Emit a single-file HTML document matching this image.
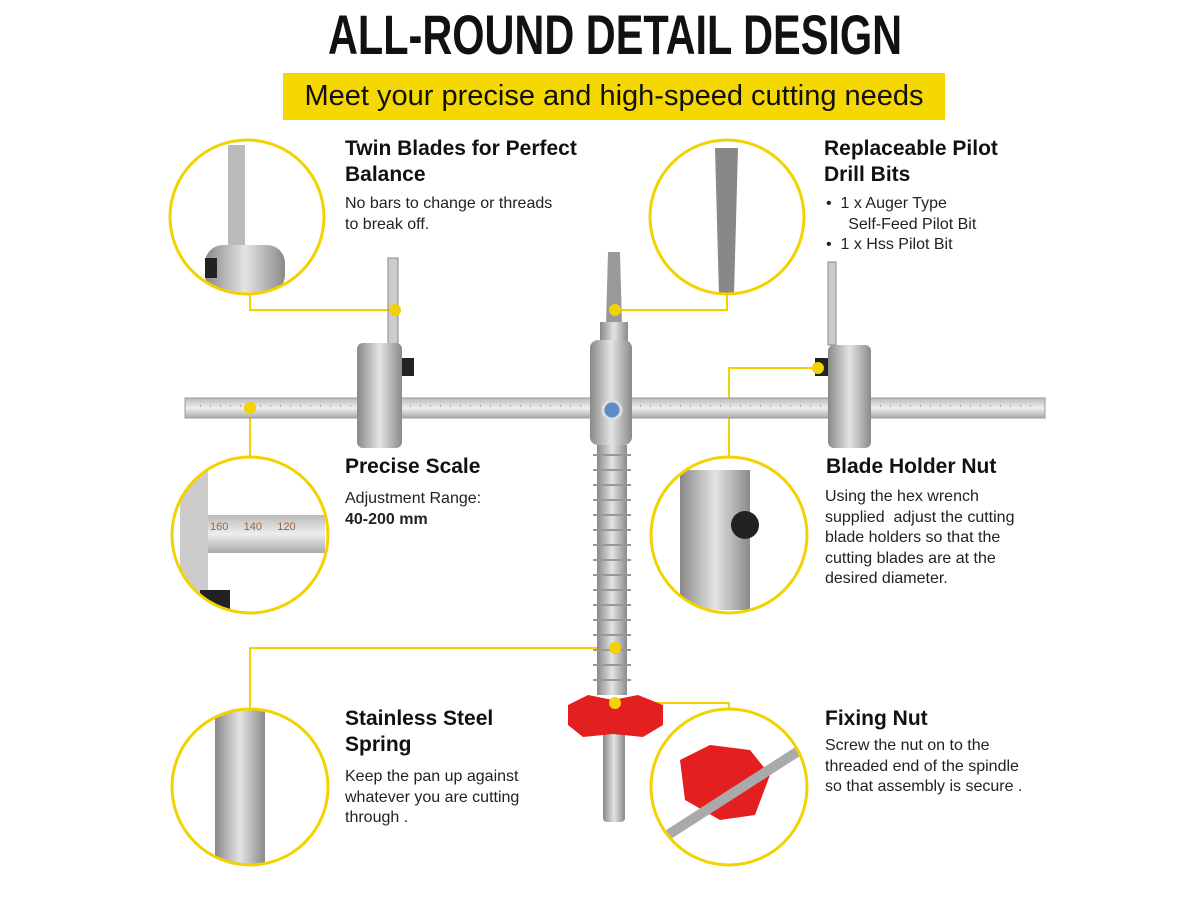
<!DOCTYPE html>
<html><head><meta charset="utf-8"><style>
body{margin:0;width:1200px;height:900px;background:#fff;overflow:hidden;font-family:"Liberation Sans",sans-serif;position:relative}
.t{position:absolute;left:15px;width:1200px;top:2px;text-align:center;font-weight:bold;font-size:56px;transform:scaleX(0.74);color:#111}
.ban{position:absolute;left:283px;top:73px;width:662px;height:47px;background:#f5d800;text-align:center;font-size:29px;line-height:47px;color:#111}
.h{position:absolute;font-weight:bold;font-size:21px;line-height:26px;color:#111}
.p{position:absolute;font-size:16px;line-height:20.5px;color:#222}
</style></head><body>
<div class="t">ALL-ROUND DETAIL DESIGN</div>
<div class="ban">Meet your precise and high-speed cutting needs</div>
<svg width="1200" height="900" style="position:absolute;left:0;top:0">
<defs><linearGradient id="m" x1="0" x2="1"><stop offset="0" stop-color="#888"/><stop offset=".5" stop-color="#e4e4e4"/><stop offset="1" stop-color="#8a8a8a"/></linearGradient>
<linearGradient id="mv" x1="0" y1="0" x2="0" y2="1"><stop offset="0" stop-color="#bbb"/><stop offset=".5" stop-color="#eee"/><stop offset="1" stop-color="#aaa"/></linearGradient>
<clipPath id="c1"><circle cx="247" cy="217" r="77"/></clipPath>
<clipPath id="c2"><circle cx="727" cy="217" r="77"/></clipPath>
<clipPath id="c3"><circle cx="250" cy="535" r="78"/></clipPath>
<clipPath id="c4"><circle cx="729" cy="535" r="78"/></clipPath>
<clipPath id="c5"><circle cx="250" cy="787" r="78"/></clipPath>
<clipPath id="c6"><circle cx="729" cy="787" r="78"/></clipPath>
</defs>
<g stroke="#f2d200" stroke-width="2" fill="none">
<polyline points="250,295 250,310 395,310"/><polyline points="727,295 727,310 615,310"/>
<line x1="250" y1="408" x2="250" y2="458"/><polyline points="818,368 729,368 729,458"/>
<polyline points="615,648 250,648 250,710"/><polyline points="615,703 729,703 729,710"/>
</g>
<rect x="185" y="398" width="860" height="20" fill="url(#mv)" stroke="#999"/>
<g stroke="#a0643a" stroke-width="1"><path d="M200 406h840" stroke-dasharray="1 9"/></g>
<polygon points="388,258 398,258 398,345 388,345" fill="#ccc" stroke="#888"/>
<polygon points="828,262 836,262 836,345 828,345" fill="#ccc" stroke="#888"/>
<rect x="357" y="343" width="45" height="105" rx="6" fill="url(#m)"/>
<rect x="828" y="345" width="43" height="103" rx="6" fill="url(#m)"/>
<rect x="402" y="358" width="12" height="18" fill="#222"/><rect x="815" y="358" width="13" height="18" fill="#222"/>
<polygon points="608,252 620,252 622,325 606,325" fill="#999"/>
<rect x="600" y="322" width="28" height="20" fill="url(#m)"/>
<rect x="590" y="340" width="42" height="105" rx="8" fill="url(#m)"/>
<circle cx="612" cy="410" r="9" fill="#5b8cc8" stroke="#ddd" stroke-width="3"/>
<rect x="597" y="445" width="30" height="250" fill="url(#m)"/>
<g stroke="#999" stroke-width="2" fill="none"><path d="M593 455h38M593 470h38M593 485h38M593 500h38M593 515h38M593 530h38M593 545h38M593 560h38M593 575h38M593 590h38M593 605h38M593 620h38M593 635h38M593 650h38M593 665h38M593 680h38"/></g>
<rect x="603" y="730" width="22" height="92" rx="4" fill="url(#m)"/>
<path d="M568 705 l20 -10 l25 5 l25 -5 l25 10 l0 20 l-20 12 l-30 -3 l-30 3 l-15 -12z" fill="#e31f1f"/>
<g fill="#f2d200"><circle cx="395" cy="310" r="6"/><circle cx="615" cy="310" r="6"/><circle cx="250" cy="408" r="6"/><circle cx="818" cy="368" r="6"/><circle cx="615" cy="648" r="6"/><circle cx="615" cy="703" r="6"/></g>
<g fill="#fff">
<circle cx="247" cy="217" r="77"/><circle cx="727" cy="217" r="77"/>
<circle cx="250" cy="535" r="78"/><circle cx="729" cy="535" r="78"/>
<circle cx="250" cy="787" r="78"/><circle cx="729" cy="787" r="78"/></g>
<g clip-path="url(#c1)"><polygon points="228,145 245,145 245,250 228,250" fill="#bbb"/><rect x="205" y="245" width="80" height="48" rx="18" fill="url(#m)"/><rect x="205" y="258" width="12" height="20" fill="#222"/></g>
<g clip-path="url(#c2)"><polygon points="715,148 738,148 734,295 719,295" fill="#888"/></g>
<g clip-path="url(#c3)"><rect x="180" y="515" width="145" height="38" fill="url(#mv)"/><rect x="180" y="470" width="28" height="140" fill="#ccc"/><rect x="200" y="590" width="30" height="20" fill="#222"/><text x="210" y="530" font-size="11" fill="#a0643a">160 &#160;&#160;&#160; 140 &#160;&#160;&#160; 120</text></g>
<g clip-path="url(#c4)"><rect x="680" y="470" width="70" height="140" fill="url(#m)"/><circle cx="745" cy="525" r="14" fill="#222"/></g>
<g clip-path="url(#c5)"><rect x="215" y="710" width="50" height="155" fill="url(#m)"/></g>
<g clip-path="url(#c6)"><path d="M680 760 l30 -15 l40 5 l20 25 l-15 40 l-35 5 l-35 -20z" fill="#e31f1f"/><line x1="660" y1="840" x2="800" y2="750" stroke="#aaa" stroke-width="10"/></g>
<g fill="none" stroke="#f2d200" stroke-width="3">
<circle cx="247" cy="217" r="77"/><circle cx="727" cy="217" r="77"/>
<circle cx="250" cy="535" r="78"/><circle cx="729" cy="535" r="78"/>
<circle cx="250" cy="787" r="78"/><circle cx="729" cy="787" r="78"/></g>
</svg>
<div class="h" style="left:345px;top:136px">Twin Blades for Perfect<br>Balance</div>
<div class="p" style="left:345px;top:194px">No bars to change or threads<br>to break off.</div>
<div class="h" style="left:824px;top:136px">Replaceable Pilot<br>Drill Bits</div>
<div class="p" style="left:826px;top:194px">•&#160; 1 x Auger Type<br>&#160;&#160;&#160;&#160; Self-Feed Pilot Bit<br>•&#160; 1 x Hss Pilot Bit</div>
<div class="h" style="left:345px;top:454px">Precise Scale</div>
<div class="p" style="left:345px;top:489px">Adjustment Range:<br><b>40-200 mm</b></div>
<div class="h" style="left:826px;top:454px">Blade Holder Nut</div>
<div class="p" style="left:825px;top:487px">Using the hex wrench<br>supplied&#160; adjust the cutting<br>blade holders so that the<br>cutting blades are at the<br>desired diameter.</div>
<div class="h" style="left:345px;top:706px">Stainless Steel<br>Spring</div>
<div class="p" style="left:345px;top:767px">Keep the pan up against<br>whatever you are cutting<br>through .</div>
<div class="h" style="left:825px;top:706px">Fixing Nut</div>
<div class="p" style="left:825px;top:736px">Screw the nut on to the<br>threaded end of the spindle<br>so that assembly is secure .</div>
</body></html>
